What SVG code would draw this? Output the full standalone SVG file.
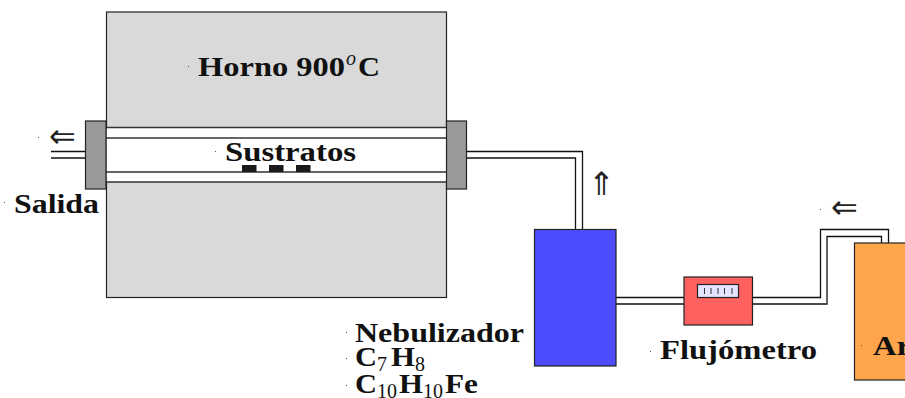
<svg xmlns="http://www.w3.org/2000/svg" width="905" height="398" viewBox="0 0 905 398">
<style>
.box{stroke:#222;stroke-width:1.2}
.pipe{fill:none;stroke:#111;stroke-width:1.3}
.tube{fill:none;stroke:#333;stroke-width:1.5}
.lbl{font-family:"Liberation Serif","Times New Roman",serif;font-weight:bold;font-size:28px;fill:#111}
.sub{font-family:"Liberation Serif","Times New Roman",serif;font-size:20px;fill:#111}
.arr{font-family:"DejaVu Sans",sans-serif;font-size:32px;fill:#222}
.dot{fill:#555}
</style>
<rect width="905" height="398" fill="#fff"/>
<g id="horno">
<rect class="box" x="106.5" y="12" width="340" height="285.5" fill="#d9d9d9"/>
<rect x="106.5" y="127.5" width="340" height="54.5" fill="#fff"/>
<path class="tube" d="M106 127.5H446M106 138H446M106 172H446M106 182H446"/>
<text class="lbl" x="198" y="75.5" textLength="147" lengthAdjust="spacingAndGlyphs">Horno 900</text>
<text class="sub" x="346" y="65" style="font-style:italic">o</text>
<text class="lbl" x="358" y="75.5" textLength="22" lengthAdjust="spacingAndGlyphs">C</text>
<rect class="dot" x="188" y="66" width="1" height="1"/>
</g>
<g id="sustratos">
<rect x="242" y="165" width="14.5" height="7" fill="#1a1a1a"/>
<rect x="269" y="165" width="14.5" height="7" fill="#1a1a1a"/>
<rect x="296" y="165" width="14.5" height="7" fill="#1a1a1a"/>
<text class="lbl" x="225" y="161" textLength="131" lengthAdjust="spacingAndGlyphs">Sustratos</text>
<rect class="dot" x="215" y="151" width="1" height="1"/>
</g>
<g id="connectors">
<path class="pipe" d="M51 151.5H85.5M51 158H85.5"/>
<path class="pipe" d="M466.5 151.5H582.5V229.5M466.5 158H575.5V229.5"/>
<path class="pipe" d="M616 297.5H684M616 304H684"/>
<path class="pipe" d="M752.5 297.5H820.5V229.5H888.5V243M752.5 304H827V236.5H881.5V243"/>
</g>
<g id="brida-izq">
<rect class="box" x="85.5" y="121" width="20.5" height="68" fill="#999"/>
</g>
<g id="brida-der">
<rect class="box" x="446.5" y="121" width="20" height="68" fill="#999"/>
</g>
<g id="salida">
<text class="arr" x="49" y="147">⇐</text>
<text class="lbl" x="14" y="212.5" textLength="85" lengthAdjust="spacingAndGlyphs">Salida</text>
<rect class="dot" x="38" y="137" width="1" height="1"/>
<rect class="dot" x="4" y="202" width="1" height="1"/>
</g>
<g id="nebulizador">
<rect class="box" x="534.5" y="229.5" width="81.5" height="136.5" fill="#4d4dff"/>
<text class="arr" x="588" y="195">⇑</text>
<text class="lbl" x="355" y="341.5" textLength="169" lengthAdjust="spacingAndGlyphs">Nebulizador</text>
<text class="lbl" x="355" y="365.5" textLength="22" lengthAdjust="spacingAndGlyphs">C</text>
<text class="sub" x="377" y="370.5">7</text>
<text class="lbl" x="391" y="365.5" textLength="24" lengthAdjust="spacingAndGlyphs">H</text>
<text class="sub" x="415" y="370.5">8</text>
<text class="lbl" x="355" y="393" textLength="22" lengthAdjust="spacingAndGlyphs">C</text>
<text class="sub" x="377" y="397.5">10</text>
<text class="lbl" x="399" y="393" textLength="24" lengthAdjust="spacingAndGlyphs">H</text>
<text class="sub" x="423" y="397.5">10</text>
<text class="lbl" x="445" y="393" textLength="33" lengthAdjust="spacingAndGlyphs">Fe</text>
<rect class="dot" x="346" y="332" width="1" height="1"/>
<rect class="dot" x="346" y="358" width="1" height="1"/>
<rect class="dot" x="346" y="385" width="1" height="1"/>
</g>
<g id="flujometro">
<rect class="box" x="684" y="277" width="68.5" height="48" fill="#ff6060"/>
<rect class="box" x="697.5" y="284.5" width="41" height="13" fill="#e5e5ff"/>
<path d="M704.5 288V294M711 288V294M718 288V294M724.5 288V294M732 288V294" stroke="#333" stroke-width="1"/>
<text class="lbl" x="660" y="358.5" textLength="157" lengthAdjust="spacingAndGlyphs">Flujómetro</text>
<rect class="dot" x="650" y="351" width="1" height="1"/>
</g>
<g id="argon">
<rect class="box" x="854.5" y="243" width="60" height="137" fill="#ffa64d"/>
<text class="lbl" x="873" y="354.5" textLength="38" lengthAdjust="spacingAndGlyphs">Ar</text>
<rect class="dot" x="861" y="345" width="1" height="1"/>
<text class="arr" x="831" y="218">⇐</text>
<rect class="dot" x="820" y="209" width="1" height="1"/>
</g>
</svg>
